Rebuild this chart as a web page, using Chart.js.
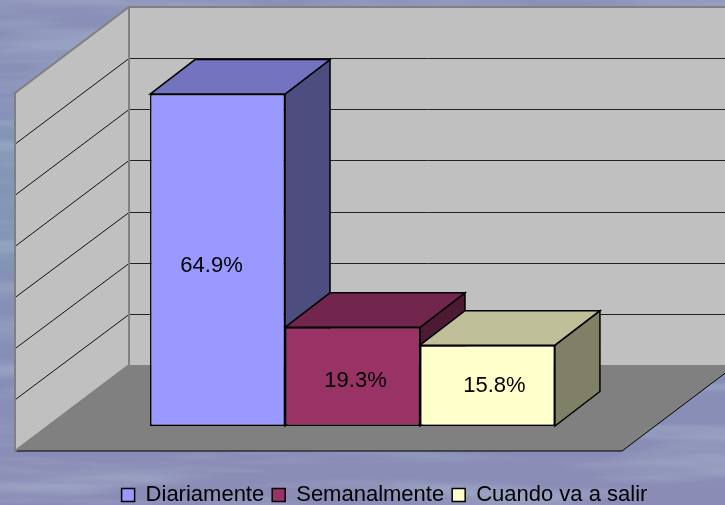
<!DOCTYPE html>
<html>
<head>
<meta charset="utf-8">
<title>Frecuencia</title>
<script src="https://cdn.jsdelivr.net/npm/chart.js@4"></script>
<style>
  html, body { margin: 0; padding: 0; width: 725px; height: 505px; overflow: hidden; }
  body {
    position: relative;
    background:
      linear-gradient(90deg, rgba(125,155,180,.5) 0, rgba(125,155,180,.25) 40px, rgba(125,155,180,0) 110px) 0 120px / 100% 150px no-repeat,
      linear-gradient(180deg, #8a90b8 0, #8690b6 30%, #8490b4 55%, #8b8cb6 100%);
  }
  #grain { position: absolute; left: 0; top: 0; }
  #chart { position: absolute; left: 0; top: 0; }
</style>
</head>
<body>
<svg id="grain" width="725" height="505">
  <filter id="mottle">
    <feTurbulence type="fractalNoise" baseFrequency="0.005 0.05" numOctaves="3" seed="7"/>
    <feColorMatrix values="0 0 0 0 .47  0 0 0 0 .58  0 0 0 0 .68  1 0 0 0 -.44"/>
  </filter>
  <rect width="725" height="505" filter="url(#mottle)"/>
</svg>
<canvas id="chart" width="725" height="505"></canvas>
<script>
const categories = ['Frecuencia'];
const seriesNames = ['Diariamente', 'Semanalmente', 'Cuando va a salir'];
const diariamente = [64.9];
const semanalmente = [19.3];
const cuandoVaASalir = [15.8];
const axisMax = 70;
const axisStep = 10;

// front, top and side colours of each box
const frontColors = ['#9999ff', '#993366', '#ffffcc'];
const topColors = ['#7373bf', '#73264d', '#bfbf99'];
const sideColors = ['#4d4d80', '#4d1a33', '#808066'];

// fake 3d offsets, measured from the plane of the bars' front faces
const barDepth = { x: 45, y: -34.5 };
const wallFront = { x: -34, y: 25 };
const wallBack = { x: 80, y: -61 };
// the labels do not sit exactly in the middle of the bars
const labelNudge = [[-6, 5.5], [3, 4.5], [7, 0.5]];

function poly(ctx, pts, fill, stroke, width) {
  ctx.beginPath();
  pts.forEach((p, i) => i ? ctx.lineTo(p[0], p[1]) : ctx.moveTo(p[0], p[1]));
  ctx.closePath();
  if (fill) { ctx.fillStyle = fill; ctx.fill(); }
  if (stroke) { ctx.strokeStyle = stroke; ctx.lineWidth = width; ctx.stroke(); }
}

function line(ctx, x1, y1, x2, y2, color, width) {
  ctx.beginPath();
  ctx.moveTo(x1, y1);
  ctx.lineTo(x2, y2);
  ctx.strokeStyle = color;
  ctx.lineWidth = width;
  ctx.stroke();
}

const walls = {
  id: 'walls',
  beforeDatasetsDraw(chart) {
    const ctx = chart.ctx;
    const { left, right } = chart.chartArea;
    const yScale = chart.scales.y;
    const base = yScale.getPixelForValue(0);
    const top = yScale.getPixelForValue(axisMax);
    const fl = left + wallFront.x, fr = right + wallFront.x;
    const bl = left + wallBack.x, br = right + wallBack.x;

    ctx.save();
    // back and left walls
    poly(ctx, [[bl, top + wallBack.y], [br, top + wallBack.y], [br, base + wallBack.y], [bl, base + wallBack.y]], '#c0c0c0');
    poly(ctx, [[fl, top + wallFront.y], [bl, top + wallBack.y], [bl, base + wallBack.y], [fl, base + wallFront.y]], '#c0c0c0');

    // gridlines run along both walls
    yScale.ticks.forEach(t => {
      if (t.value === 0 || t.value === axisMax) return;
      const y = yScale.getPixelForValue(t.value);
      const backY = Math.round(y + wallBack.y) + 0.5;
      line(ctx, fl, y + wallFront.y, bl, backY, '#111', 1);
      line(ctx, bl, backY, br, backY, '#222', 1);
    });

    // floor
    poly(ctx, [[fl, base + wallFront.y], [fr, base + wallFront.y], [br, base + wallBack.y], [bl, base + wallBack.y]], '#808080');
    line(ctx, fl, base + wallFront.y, fr, base + wallFront.y, '#000', 1);
    line(ctx, fr, base + wallFront.y, br, base + wallBack.y, '#000', 1);

    // wall outline
    ctx.beginPath();
    ctx.moveTo(fl, base + wallFront.y);
    ctx.lineTo(fl, top + wallFront.y);
    ctx.lineTo(bl, top + wallBack.y);
    ctx.lineTo(br, top + wallBack.y);
    ctx.moveTo(bl, top + wallBack.y);
    ctx.lineTo(bl, base + wallBack.y);
    ctx.lineTo(fl, base + wallFront.y);
    ctx.strokeStyle = '#808080';
    ctx.lineWidth = 2;
    ctx.stroke();

    // top and side of each box, left to right so they overlap properly
    chart.data.datasets.forEach((ds, i) => {
      const bar = chart.getDatasetMeta(i).data[0];
      const l = bar.x - bar.width / 2, r = bar.x + bar.width / 2;
      const d = barDepth;
      poly(ctx, [[r, bar.y], [r + d.x, bar.y + d.y], [r + d.x, bar.base + d.y], [r, bar.base]], sideColors[i], '#000', 1.5);
      poly(ctx, [[l, bar.y], [l + d.x, bar.y + d.y], [r + d.x, bar.y + d.y], [r, bar.y]], topColors[i], '#000', 1.5);
    });
    ctx.restore();
  },
  afterDatasetsDraw(chart) {
    const ctx = chart.ctx;
    ctx.save();
    ctx.font = '22px "Liberation Sans", Arial, sans-serif';
    ctx.fillStyle = '#000';
    ctx.textAlign = 'center';
    ctx.textBaseline = 'middle';
    chart.data.datasets.forEach((ds, i) => {
      const bar = chart.getDatasetMeta(i).data[0];
      const cy = (bar.y + bar.base) / 2;
      ctx.fillText(ds.data[0].toFixed(1) + '%', bar.x + labelNudge[i][0], cy + labelNudge[i][1]);
    });
    ctx.restore();
  }
};

// legend sits low and right of centre in the original
const legendShift = {
  id: 'legendShift',
  afterLayout(chart) {
    chart.legend.left += 32;
    chart.legend.right += 32;
    chart.legend.top += 11;
    chart.legend.bottom += 11;
  }
};

const seriesValues = [diariamente, semanalmente, cuandoVaASalir];

new Chart(document.getElementById('chart').getContext('2d'), {
  type: 'bar',
  data: {
    labels: categories,
    datasets: seriesNames.map((name, i) => ({
      label: name,
      data: seriesValues[i],
      backgroundColor: frontColors[i],
      borderColor: '#000',
      borderWidth: 1.5,
      borderSkipped: false,
      categoryPercentage: 0.667,
      barPercentage: 1
    }))
  },
  options: {
    responsive: false,
    animation: false,
    layout: { padding: { left: 49, right: 69, top: 68, bottom: 0 } },
    plugins: {
      tooltip: { enabled: false },
      legend: {
        position: 'bottom',
        labels: {
          boxWidth: 13,
          boxHeight: 13,
          padding: 8,
          color: '#000',
          font: { family: '"Liberation Sans", Arial, sans-serif', size: 22 }
        }
      }
    },
    scales: {
      x: {
        grid: { display: false },
        border: { display: false },
        ticks: { display: false },
        afterFit(scale) { scale.height = 79 - scale.chart.legend.height; }
      },
      y: {
        display: false,
        min: 0,
        max: axisMax,
        ticks: { stepSize: axisStep }
      }
    }
  },
  plugins: [walls, legendShift]
});
</script>
</body>
</html>
